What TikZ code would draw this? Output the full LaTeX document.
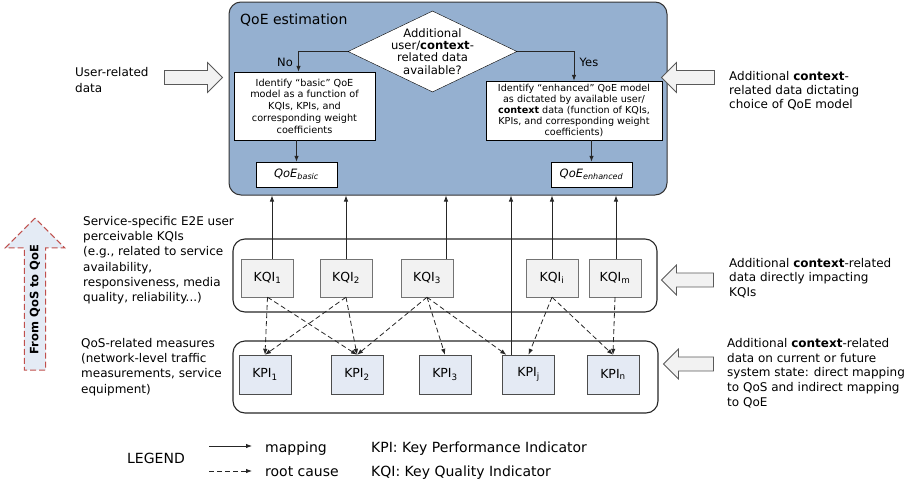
\documentclass[tikz,border=0pt]{standalone}
\usepackage{fontspec}
\setmainfont{DejaVu Sans}
\usetikzlibrary{arrows.meta,shapes.geometric,shapes.arrows}
\definecolor{estblue}{RGB}{149,176,208}
\definecolor{kpiblue}{RGB}{228,234,244}
\definecolor{kqigray}{RGB}{242,242,242}
\definecolor{upred}{RGB}{192,80,77}
\definecolor{upblue}{RGB}{228,235,245}
\tikzset{
	estim/.style={draw=black!80, line width=1pt, fill=estblue, rounded corners=12pt},
	layer/.style={draw=black!85, line width=1.1pt, rounded corners=12pt},
	ind/.style={draw=black!55, fill=kqigray, minimum width=52pt, minimum height=38pt, inner sep=0pt, font=\fontsize{12.5}{14}\selectfont},
	kpibox/.style={ind, draw=black!70, fill=kpiblue, minimum height=39pt},
	model/.style={draw=black, fill=white, align=center, inner sep=1.5pt, font=\fontsize{9.7}{11.8}\selectfont},
	result/.style={draw=black, fill=white, minimum width=81pt, minimum height=25pt, inner sep=0pt, font=\fontsize{11.5}{13}\selectfont\itshape},
	decision/.style={diamond, draw=black, fill=white, aspect=2.09, inner sep=-5pt, minimum width=169pt, minimum height=81pt, align=center, font=\fontsize{11.6}{12.2}\selectfont},
	note/.style={anchor=base west, align=left, inner sep=0pt, font=\fontsize{12}{15.2}\selectfont},
	rnote/.style={note, font=\fontsize{12}{14.2}\selectfont},
	fat/.style={single arrow, draw=black!65, fill=kqigray, line width=0.8pt, inner sep=6.5pt, minimum width=30pt, single arrow head extend=8pt},
	map/.style={draw=black!85, line width=0.8pt, -{Latex[length=6pt,width=4.5pt]}},
	cause/.style={map, dash pattern=on 5pt off 3pt},
	legtext/.style={anchor=base west, inner sep=0pt, font=\fontsize{14}{16}\selectfont}
}
\begin{document}
\begin{tikzpicture}[x=1pt, y=-1pt]
	\useasboundingbox (0,0) rectangle (921,485);
	\node[estim, minimum width=438pt, minimum height=193pt] (est) at (448,98.5) {};
	\node[anchor=west, inner sep=0pt, font=\fontsize{14}{16}\selectfont] (title) at (240,20) {QoE estimation};
	\node[decision] (ask) at (432.5,51.5) {Additional\\user/\textbf{context}-\\related data\\available?};
	\node[model, minimum width=141pt, minimum height=68pt] (basic) at (304.5,106) {Identify “basic” QoE\\model as a function of\\KQIs, KPIs, and\\corresponding weight\\coefficients};
	\node[model, minimum width=176pt, minimum height=59pt, font=\fontsize{9.6}{11.2}\selectfont] (enh) at (574,110.5) {Identify “enhanced” QoE model\\as dictated by available user/\\\textbf{context} data (function of KQIs,\\KPIs, and corresponding weight\\coefficients)};
	\node[result] (qb) at (296.5,174.5) {QoE\textsubscript{basic}};
	\node[result] (qe) at (591.5,174.5) {QoE\textsubscript{enhanced}};
	\node[font=\fontsize{11.5}{13}\selectfont] (no) at (285,62) {No};
	\node[font=\fontsize{11.5}{13}\selectfont] (yes) at (589,62) {Yes};
	\draw[map] (ask.west) -| ([xshift=-6pt]basic.north);
	\draw[map] (ask.east) -| (enh.north);
	\draw[map] (qb.north |- basic.south) -- (qb.north);
	\draw[map] (qe.north |- enh.south) -- (qe.north);

	\node[layer, minimum width=424pt, minimum height=73pt] (kqilayer) at (445,275.5) {};
	\node[layer, minimum width=425pt, minimum height=72pt] (kpilayer) at (445.5,377) {};
	\node[ind] (kqi1) at (267.5,278) {KQI\textsubscript{1}};
	\node[ind] (kqi2) at (346,278) {KQI\textsubscript{2}};
	\node[ind] (kqi3) at (427,278) {KQI\textsubscript{3}};
	\node[ind] (kqii) at (552,278) {KQI\textsubscript{i}};
	\node[ind] (kqim) at (615,278) {KQI\textsubscript{m}};
	\node[kpibox] (kpi1) at (265,374.5) {KPI\textsubscript{1}};
	\node[kpibox] (kpi2) at (357,374.5) {KPI\textsubscript{2}};
	\node[kpibox] (kpi3) at (445,374.5) {KPI\textsubscript{3}};
	\node[kpibox] (kpij) at (528.5,374.5) {KPI\textsubscript{j}};
	\node[kpibox] (kpin) at (613,374.5) {KPI\textsubscript{n}};
	\foreach \src/\dx in {kqi1/4.5, kqi2/0, kqi3/19, kqii/0, kqim/1, kpij/-17.5}
		\draw[map] ([xshift=\dx pt]\src.north) -- ([xshift=\dx pt]\src.north |- est.south);
	\foreach \src/\dst in {kqi1/kpi1, kqi1/kpi2, kqi2/kpi1, kqi2/kpi2, kqi3/kpi2, kqi3/kpi3, kqii/kpij, kqii/kpin, kqim/kpin}
		\draw[cause] (\src.south) -- (\dst.north);
	\draw[cause] (kqi3.south) -- ([xshift=4pt]kpij.north west);

	\node[fat, minimum height=58pt] (userin) at (190,77.5) {};
	\node[fat, minimum height=53pt, shape border rotate=180] (ctxmodel) at (691.5,77.5) {};
	\node[fat, minimum height=52pt, shape border rotate=180] (ctxkqi) at (691,280) {};
	\node[fat, minimum height=50pt, shape border rotate=180] (ctxkpi) at (692,364) {};
	\node[single arrow, rotate=90, draw=upred, fill=upblue, line width=1pt, dash pattern=on 6pt off 3pt, minimum height=152pt, minimum width=59pt, inner xsep=2pt, inner ysep=5pt, single arrow head extend=19pt, font=\fontsize{11.5}{13}\selectfont\bfseries] (qos2qoe) at (35,299.5) {From QoS to QoE};

	\node[note, font=\fontsize{12}{15.4}\selectfont] (usernote) at (75,92.1) {User-related\\data};
	\node[note] (kqinote) at (83,301.5) {Service-specific E2E user\\perceivable KQIs\\(e.g., related to service\\availability,\\responsiveness, media\\quality, reliability...)};
	\node[note] (kpinote) at (81,393.1) {QoS-related measures\\(network-level traffic\\measurements, service\\equipment)};
	\node[rnote] (ctxnote1) at (729,108.8) {Additional \textbf{context}-\\related data dictating\\choice of QoE model};
	\node[rnote] (ctxnote2) at (729,296.1) {Additional \textbf{context}-related\\data directly impacting\\KQIs};
	\node[rnote, font=\fontsize{12}{14.6}\selectfont] (ctxnote3) at (727,406.1) {Additional \textbf{context}-related\\data on current or future\\system state: direct mapping\\to QoS and indirect mapping\\to QoE};

	\node[legtext] (legend) at (127,463) {LEGEND};
	\coordinate (m1) at (209,446);
	\coordinate (m2) at (252,446);
	\coordinate (c1) at (209,471);
	\coordinate (c2) at (252,471);
	\draw[map] (m1) -- (m2);
	\draw[cause] (c1) -- (c2);
	\node[legtext] (mapnote) at (265,452) {mapping};
	\node[legtext] (causenote) at (265,476.5) {root cause};
	\node[legtext] (kpidef) at (371,452.5) {KPI: Key Performance Indicator};
	\node[legtext] (kqidef) at (371,476.5) {KQI: Key Quality Indicator};
\end{tikzpicture}
\end{document}
